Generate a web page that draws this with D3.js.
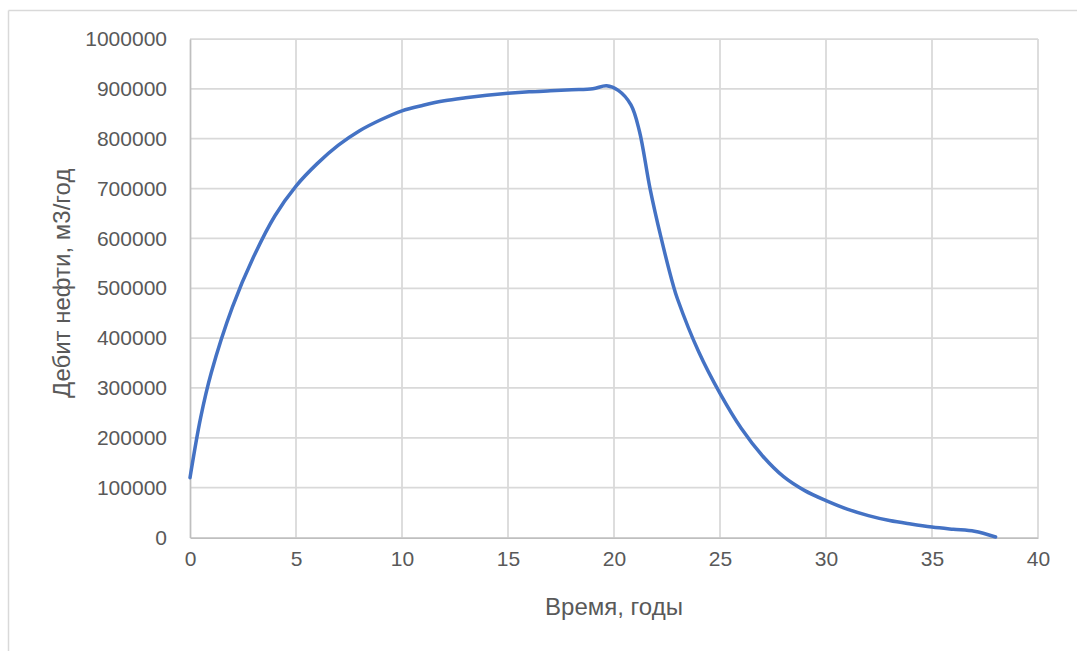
<!DOCTYPE html>
<html>
<head>
<meta charset="utf-8">
<script src="https://cdn.jsdelivr.net/npm/d3@7"></script>
<style>
	body { margin: 0; background: #fff; }
	svg text { font-family: "Liberation Sans", Arial, sans-serif; fill: #595959; }
</style>
</head>
<body>
<div id="chart"></div>
<script>
// years and oil rate
const years = [0, 0.5, 1, 2, 3, 4, 5, 6, 7, 8, 9, 10, 11, 12, 13, 14, 15, 16, 17, 18, 19, 19.65, 20.2, 20.8, 21.2, 21.7, 22.2, 22.8, 23, 24, 25, 26, 27, 28, 29, 30, 31, 32, 33, 34, 35, 36, 37, 38];
const rates = [120000, 240000, 330000, 462000, 563000, 645000, 705000, 750000, 787000, 816000, 838000, 856000, 867000, 876000, 882000, 887000, 891000, 894000, 896000, 898000, 900000, 906000, 897000, 868000, 815000, 700000, 605000, 505000, 478000, 372000, 289000, 219000, 164000, 122000, 94000, 74000, 57000, 44000, 34000, 27000, 21000, 16500, 12500, 1000];

const xTicks = [0, 5, 10, 15, 20, 25, 30, 35, 40];
const yTicks = [0, 100000, 200000, 300000, 400000, 500000, 600000, 700000, 800000, 900000, 1000000];

const xTitle = "Время, годы";
const yTitle = "Дебит нефти, м3/год";

const width = 1077, height = 651;
const plot = { left: 190, right: 1038, top: 39, bottom: 537.5 };

const svg = d3.select("#chart").append("svg")
	.attr("width", width)
	.attr("height", height);

// chart frame (only top and left edges show in the picture)
svg.append("line")
	.attr("x1", 8.5).attr("y1", 10.5).attr("x2", width).attr("y2", 10.5)
	.attr("stroke", "#d9d9d9").attr("stroke-width", 1.5);
svg.append("line")
	.attr("x1", 8.5).attr("y1", 10.5).attr("x2", 8.5).attr("y2", height)
	.attr("stroke", "#d9d9d9").attr("stroke-width", 1.5);

const x = d3.scaleLinear().domain([0, 40]).range([plot.left, plot.right]);
const y = d3.scaleLinear().domain([0, 1000000]).range([plot.bottom, plot.top]);

// grid
svg.append("g").selectAll("line")
	.data(xTicks.slice(1))
	.enter().append("line")
	.attr("x1", d => x(d)).attr("x2", d => x(d))
	.attr("y1", plot.top).attr("y2", plot.bottom)
	.attr("stroke", "#d9d9d9").attr("stroke-width", 1.75);

svg.append("g").selectAll("line")
	.data(yTicks.slice(1))
	.enter().append("line")
	.attr("x1", plot.left).attr("x2", plot.right)
	.attr("y1", d => y(d)).attr("y2", d => y(d))
	.attr("stroke", "#d9d9d9").attr("stroke-width", 1.75);

// axes
const xAxis = svg.append("g")
	.attr("transform", `translate(0,${plot.bottom})`)
	.call(d3.axisBottom(x).tickValues(xTicks).tickSize(0).tickPadding(14).tickFormat(d3.format("d")));
xAxis.select(".domain").attr("stroke", "#bfbfbf").attr("stroke-width", 1.75);
xAxis.selectAll("text").style("font-size", "21px").attr("fill", "#595959");

const yAxis = svg.append("g")
	.attr("transform", `translate(${plot.left},0)`)
	.call(d3.axisLeft(y).tickValues(yTicks).tickSize(0).tickPadding(23).tickFormat(d3.format("d")));
yAxis.select(".domain").attr("stroke", "#bfbfbf").attr("stroke-width", 1.75);
yAxis.selectAll("text").style("font-size", "21px").attr("fill", "#595959");

// series
const line = d3.line()
	.x((d, i) => x(years[i]))
	.y(d => y(d))
	.curve(d3.curveCatmullRom.alpha(0.5));

svg.append("path")
	.datum(rates)
	.attr("d", line)
	.attr("fill", "none")
	.attr("stroke", "#4472c4")
	.attr("stroke-width", 3.5)
	.attr("stroke-linecap", "round")
	.attr("stroke-linejoin", "round");

// titles
svg.append("text")
	.attr("x", (plot.left + plot.right) / 2)
	.attr("y", 615)
	.attr("text-anchor", "middle")
	.style("font-size", "24px")
	.text(xTitle);

svg.append("text")
	.attr("transform", `translate(70,${(plot.top + plot.bottom) / 2 - 5}) rotate(-90)`)
	.attr("text-anchor", "middle")
	.style("font-size", "24px")
	.text(yTitle);
</script>
</body>
</html>
